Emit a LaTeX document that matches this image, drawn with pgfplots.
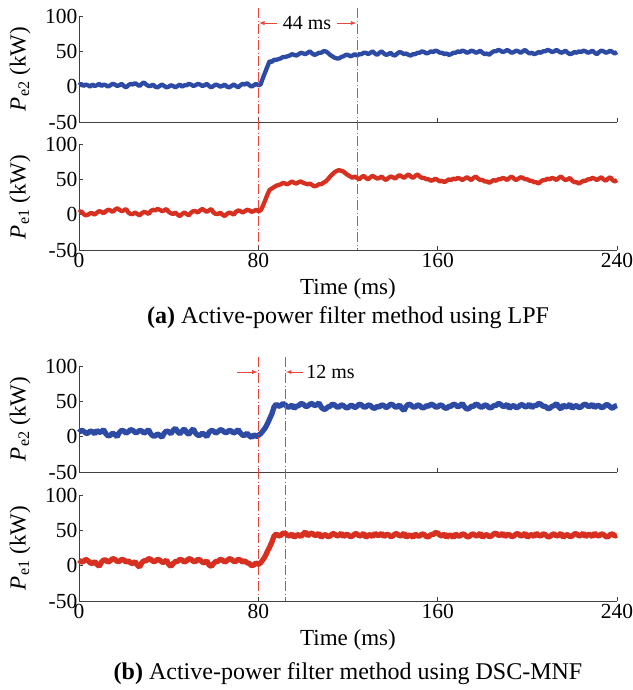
\documentclass[border=0pt]{standalone}
\usepackage{fontspec}
\setmainfont{Liberation Serif}
\usepackage{pgfplots}
\pgfplotsset{compat=1.18}
\definecolor{cblue}{RGB}{45,75,165}
\definecolor{cred}{RGB}{215,48,32}
\definecolor{vred}{RGB}{235,70,60}
\tikzset{
  vline/.style={vred, line width=0.9pt, dash pattern=on 10pt off 2.5pt on 1pt off 2.5pt},
  arr/.style={vred, line width=0.9pt, -latex},
  siga/.style={line width=4.3pt, line join=bevel},
  sigb/.style={line width=5.3pt, line join=bevel},
}
\pgfplotsset{
  panel/.style={
    width=538pt, height=106pt, scale only axis,
    xmin=0, xmax=240, ymin=-50, ymax=100,
    axis lines=left, axis line style={-, line width=0.7pt, black!75},
    tick align=inside, major tick length=4pt,
    tick style={black!75, line width=0.7pt},
    xtick={0,80,160,240}, ytick={-50,0,50,100},
    /pgf/number format/assume math mode=true,
    yticklabel={\pgfmathprintnumber{\tick}},
    font=\fontsize{23}{27}\selectfont,
    yticklabel style={inner sep=1.5pt, font=\fontsize{21.5}{25}\selectfont},
    xticklabel style={inner sep=1.5pt, yshift=-1pt, font=\fontsize{21.5}{25}\selectfont},
    ylabel style={at={(axis description cs:-0.1097,0.5)}, anchor=center, font=\fontsize{23}{27}\selectfont},
    clip=false,
  },
  notx/.style={xticklabels={}},
  withx/.style={xticklabel={\pgfmathprintnumber{\tick}},
    xlabel={Time (ms)},
    xlabel style={at={(axis description cs:0.5,0)}, anchor=base, yshift=-44pt, inner sep=0pt}},
}
\begin{document}
\begin{tikzpicture}
\useasboundingbox (0,0) rectangle (632pt,-690pt);
% ---------- (a) Pe2
\begin{axis}[panel, notx, at={(79pt,-16pt)}, anchor=north west,
  ylabel={\textit{P}\textsubscript{e2} (kW)}]
\addplot[siga, cblue] coordinates {
(0,2)(1,4)(2,1)(3,3)(4,2)(5,0)(6,3)(7,1)(8,2)(9,4)(10,1)(11,3)(12,2)(13,0)(14,2)(15,4)(16,3)(17,1)(18,2)(19,4)(20,1)(21,-1)(22,2)(23,4)(24,3)(25,5)(26,3)(27,1)(28,4)(29,6)(30,3)(31,1)(32,1)(33,3)(34,0)(35,-1)(36,1)(37,3)(38,1)(39,-1)(40,0)(41,2)(42,1)(43,-1)(44,1)(45,3)(46,0)(47,2)(48,2)(49,4)(50,3)(51,1)(52,2)(53,4)(54,3)(55,1)(56,2)(57,4)(58,1)(59,-1)(60,1)(61,3)(62,2)(63,0)(64,1)(65,3)(66,0)(67,-1)(68,1)(69,3)(70,1)(71,-1)(72,2)(73,4)(74,3)(75,5)(76,2)(77,0)(78,2)(79,4)(80,2)(81,3)(82,12)(83,20)(84,28)(85,36)(86,35)(87,38)(88,38)(89,39)(90,40)(91,42)(92,42)(93,43)(94,44)(95,46)(96,45)(97,44)(98,46)(99,48)(100,47)(101,46)(102,48)(103,50)(104,47)(105,45)(106,46)(107,48)(108,48)(109,50)(110,50)(111,48)(112,45)(113,43)(114,41)(115,40)(116,40)(117,42)(118,43)(119,45)(120,45)(121,43)(122,44)(123,46)(124,44)(125,46)(126,46)(127,48)(128,48)(129,46)(130,48)(131,50)(132,47)(133,45)(134,48)(135,50)(136,47)(137,45)(138,46)(139,48)(140,45)(141,44)(142,47)(143,49)(144,48)(145,46)(146,47)(147,45)(148,44)(149,46)(150,46)(151,48)(152,48)(153,50)(154,49)(155,47)(156,48)(157,50)(158,49)(159,51)(160,50)(161,48)(162,48)(163,46)(164,47)(165,45)(166,46)(167,48)(168,48)(169,50)(170,49)(171,51)(172,50)(173,48)(174,49)(175,51)(176,50)(177,48)(178,49)(179,51)(180,48)(181,46)(182,47)(183,45)(184,48)(185,50)(186,50)(187,52)(188,51)(189,49)(190,50)(191,52)(192,50)(193,48)(194,49)(195,51)(196,50)(197,48)(198,50)(199,52)(200,49)(201,47)(202,48)(203,46)(204,47)(205,49)(206,48)(207,50)(208,50)(209,52)(210,51)(211,49)(212,50)(213,52)(214,50)(215,48)(216,49)(217,51)(218,48)(219,46)(220,47)(221,49)(222,48)(223,50)(224,49)(225,51)(226,50)(227,48)(228,49)(229,51)(230,48)(231,46)(232,49)(233,51)(234,50)(235,48)(236,49)(237,51)(238,49)(239,47)(240,49)
};
\draw[vline] (axis cs:80,111) -- (axis cs:80,-231);
\draw[vline] (axis cs:124,111) -- (axis cs:124,-231);
\draw[arr] (axis cs:88.3,90) -- (axis cs:80.3,90);
\draw[arr] (axis cs:115.2,90) -- (axis cs:123.7,90);
\node[font=\fontsize{20}{24}\selectfont, inner sep=0pt] at (axis cs:101.7,90) {44 ms};
\end{axis}
% ---------- (a) Pe1
\begin{axis}[panel, withx, at={(79pt,-144pt)}, anchor=north west,
  ylabel={\textit{P}\textsubscript{e1} (kW)}]
\addplot[siga, cred] coordinates {
(0,3)(1,5)(2,1)(3,-1)(4,0)(5,2)(6,2)(7,0)(8,3)(9,5)(10,4)(11,2)(12,5)(13,7)(14,6)(15,4)(16,7)(17,9)(18,7)(19,5)(20,6)(21,8)(22,3)(23,1)(24,1)(25,3)(26,1)(27,-1)(28,2)(29,4)(30,3)(31,1)(32,5)(33,7)(34,6)(35,8)(36,7)(37,5)(38,6)(39,8)(40,4)(41,2)(42,1)(43,3)(44,0)(45,-2)(46,1)(47,3)(48,1)(49,-1)(50,3)(51,5)(52,5)(53,3)(54,6)(55,8)(56,6)(57,4)(58,6)(59,8)(60,3)(61,1)(62,1)(63,3)(64,0)(65,-2)(66,1)(67,3)(68,2)(69,0)(70,4)(71,6)(72,5)(73,3)(74,5)(75,7)(76,6)(77,4)(78,5)(79,7)(80,5)(81,6)(82,12)(83,20)(84,28)(85,35)(86,37)(87,39)(88,41)(89,42)(90,43)(91,45)(92,44)(93,43)(94,45)(95,47)(96,45)(97,44)(98,46)(99,47)(100,45)(101,44)(102,43)(103,44)(104,42)(105,40)(106,41)(107,43)(108,43)(109,45)(110,47)(111,50)(112,54)(113,57)(114,60)(115,62)(116,63)(117,62)(118,61)(119,58)(120,56)(121,54)(122,52)(123,54)(124,52)(125,50)(126,53)(127,55)(128,52)(129,50)(130,53)(131,55)(132,53)(133,51)(134,52)(135,54)(136,51)(137,49)(138,52)(139,54)(140,53)(141,51)(142,54)(143,56)(144,54)(145,52)(146,55)(147,57)(148,54)(149,52)(150,55)(151,57)(152,54)(153,52)(154,52)(155,50)(156,50)(157,48)(158,49)(159,51)(160,49)(161,47)(162,48)(163,46)(164,48)(165,50)(166,49)(167,51)(168,50)(169,52)(170,51)(171,49)(172,51)(173,53)(174,51)(175,49)(176,52)(177,54)(178,51)(179,49)(180,49)(181,47)(182,47)(183,45)(184,47)(185,49)(186,48)(187,50)(188,50)(189,52)(190,51)(191,49)(192,52)(193,54)(194,51)(195,49)(196,51)(197,53)(198,52)(199,50)(200,50)(201,48)(202,48)(203,46)(204,46)(205,44)(206,47)(207,49)(208,49)(209,51)(210,50)(211,52)(212,51)(213,49)(214,52)(215,54)(216,51)(217,49)(218,50)(219,52)(220,48)(221,46)(222,46)(223,44)(224,46)(225,48)(226,48)(227,50)(228,50)(229,52)(230,51)(231,49)(232,51)(233,53)(234,50)(235,48)(236,51)(237,53)(238,49)(239,47)(240,49)
};
\node[anchor=base, inner sep=0pt, font=\fontsize{24}{28}\selectfont] at ([yshift=-73pt]axis description cs:0.5,0) {\textbf{(a)} Active-power filter method using LPF};
\end{axis}
% ---------- (b) Pe2
\begin{axis}[panel, notx, at={(79pt,-366pt)}, anchor=north west,
  ylabel={\textit{P}\textsubscript{e2} (kW)}]
\addplot[sigb, cblue] coordinates {
(0,6)(1,9)(2,8)(3,5)(4,5)(5,8)(6,7)(7,4)(8,9)(9,6)(10,7)(11,10)(12,4)(13,1)(14,2)(15,5)(16,3)(17,0)(18,6)(19,9)(20,8)(21,5)(22,7)(23,10)(24,9)(25,6)(26,6)(27,9)(28,8)(29,5)(30,7)(31,10)(32,4)(33,1)(34,1)(35,4)(36,2)(37,-1)(38,5)(39,8)(40,7)(41,4)(42,9)(43,12)(44,7)(45,4)(46,8)(47,11)(48,6)(49,3)(50,8)(51,11)(52,5)(53,2)(54,2)(55,5)(56,3)(57,0)(58,6)(59,9)(60,8)(61,5)(62,7)(63,10)(64,9)(65,6)(66,6)(67,9)(68,8)(69,5)(70,7)(71,10)(72,5)(73,2)(74,2)(75,5)(76,1)(77,-1)(78,3)(79,0)(80,2)(81,4)(82,8)(83,12)(84,18)(85,25)(86,32)(87,42)(88,46)(89,43)(90,44)(91,47)(92,45)(93,42)(94,42)(95,45)(96,40)(97,43)(98,44)(99,47)(100,46)(101,43)(102,43)(103,46)(104,47)(105,44)(106,45)(107,48)(108,42)(109,39)(110,39)(111,42)(112,43)(113,46)(114,45)(115,42)(116,42)(117,45)(118,44)(119,41)(120,41)(121,44)(122,44)(123,41)(124,43)(125,46)(126,45)(127,42)(128,42)(129,45)(130,44)(131,41)(132,40)(133,43)(134,42)(135,45)(136,44)(137,41)(138,43)(139,46)(140,45)(141,42)(142,42)(143,45)(144,40)(145,37)(146,43)(147,46)(148,45)(149,42)(150,42)(151,45)(152,44)(153,41)(154,41)(155,44)(156,43)(157,46)(158,45)(159,42)(160,42)(161,45)(162,44)(163,41)(164,40)(165,43)(166,43)(167,46)(168,45)(169,42)(170,44)(171,47)(172,42)(173,39)(174,40)(175,43)(176,43)(177,46)(178,45)(179,42)(180,42)(181,45)(182,44)(183,41)(184,41)(185,44)(186,44)(187,47)(188,46)(189,43)(190,43)(191,46)(192,40)(193,43)(194,44)(195,41)(196,42)(197,45)(198,45)(199,42)(200,43)(201,46)(202,41)(203,44)(204,44)(205,47)(206,46)(207,43)(208,43)(209,40)(210,40)(211,43)(212,44)(213,47)(214,42)(215,39)(216,45)(217,42)(218,43)(219,46)(220,40)(221,43)(222,44)(223,41)(224,42)(225,45)(226,46)(227,43)(228,43)(229,46)(230,41)(231,44)(232,44)(233,41)(234,42)(235,45)(236,45)(237,42)(238,40)(239,43)(240,44)
};
\draw[vline] (axis cs:80,112.7) -- (axis cs:80,-232.5);
\draw[vline] (axis cs:92,112.7) -- (axis cs:92,-232.5);
\draw[arr] (axis cs:70.5,91.5) -- (axis cs:79.7,91.5);
\draw[arr] (axis cs:99.9,91.5) -- (axis cs:92.3,91.5);
\node[font=\fontsize{20}{24}\selectfont, inner sep=0pt, anchor=west] at (axis cs:101.3,91.5) {12 ms};
\end{axis}
% ---------- (b) Pe1
\begin{axis}[panel, withx, at={(79pt,-495pt)}, anchor=north west,
  ylabel={\textit{P}\textsubscript{e1} (kW)}]
\addplot[sigb, cred] coordinates {
(0,8)(1,5)(2,6)(3,9)(4,7)(5,4)(6,3)(7,6)(8,2)(9,-1)(10,5)(11,8)(12,8)(13,5)(14,7)(15,10)(16,9)(17,6)(18,6)(19,9)(20,8)(21,5)(22,7)(23,4)(24,3)(25,6)(26,1)(27,-2)(28,4)(29,7)(30,7)(31,10)(32,9)(33,6)(34,6)(35,9)(36,8)(37,5)(38,5)(39,8)(40,2)(41,-1)(42,3)(43,6)(44,6)(45,9)(46,8)(47,5)(48,7)(49,10)(50,9)(51,6)(52,6)(53,9)(54,8)(55,5)(56,4)(57,7)(58,1)(59,-1)(60,3)(61,6)(62,6)(63,9)(64,8)(65,5)(66,7)(67,10)(68,9)(69,6)(70,6)(71,9)(72,8)(73,5)(74,7)(75,4)(76,3)(77,0)(78,1)(79,4)(80,2)(81,4)(82,8)(83,13)(84,20)(85,26)(86,33)(87,42)(88,45)(89,42)(90,43)(91,46)(92,46)(93,43)(94,42)(95,45)(96,40)(97,43)(98,44)(99,41)(100,45)(101,48)(102,42)(103,45)(104,46)(105,43)(106,43)(107,46)(108,40)(109,43)(110,44)(111,41)(112,42)(113,45)(114,45)(115,42)(116,43)(117,46)(118,41)(119,44)(120,44)(121,41)(122,42)(123,45)(124,45)(125,42)(126,43)(127,46)(128,40)(129,43)(130,44)(131,41)(132,46)(133,43)(134,43)(135,46)(136,41)(137,44)(138,44)(139,41)(140,42)(141,45)(142,45)(143,42)(144,43)(145,46)(146,40)(147,43)(148,43)(149,40)(150,45)(151,42)(152,42)(153,45)(154,44)(155,41)(156,41)(157,44)(158,44)(159,47)(160,46)(161,43)(162,42)(163,45)(164,40)(165,43)(166,43)(167,40)(168,45)(169,42)(170,42)(171,45)(172,44)(173,41)(174,41)(175,44)(176,45)(177,42)(178,43)(179,46)(180,40)(181,43)(182,44)(183,41)(184,42)(185,45)(186,46)(187,43)(188,43)(189,46)(190,41)(191,44)(192,44)(193,41)(194,42)(195,45)(196,45)(197,42)(198,43)(199,46)(200,40)(201,43)(202,44)(203,41)(204,46)(205,43)(206,42)(207,45)(208,44)(209,41)(210,41)(211,44)(212,45)(213,42)(214,43)(215,46)(216,40)(217,43)(218,44)(219,41)(220,42)(221,45)(222,45)(223,42)(224,43)(225,46)(226,41)(227,44)(228,44)(229,41)(230,46)(231,43)(232,42)(233,45)(234,44)(235,41)(236,41)(237,44)(238,45)(239,42)(240,43)
};
\node[anchor=base, inner sep=0pt, font=\fontsize{24}{28}\selectfont] at ([yshift=-78pt]axis description cs:0.5,0) {\textbf{(b)} Active-power filter method using DSC-MNF};
\end{axis}
\end{tikzpicture}
\end{document}
